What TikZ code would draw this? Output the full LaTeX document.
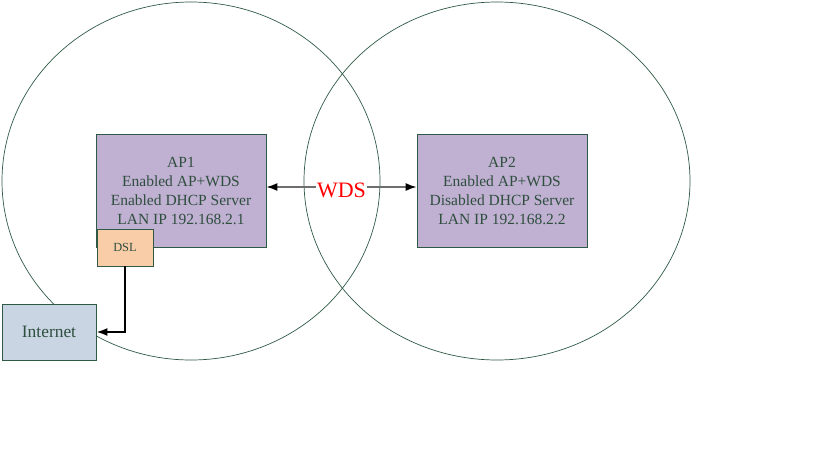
\documentclass[tikz,border=0pt]{standalone}
\usepackage{fontspec}
\setmainfont{Liberation Serif}
\usetikzlibrary{arrows.meta}
\definecolor{edge}{HTML}{2E5A45}
\definecolor{txt}{HTML}{2E4E3E}
\definecolor{apfill}{HTML}{C0B0D2}
\definecolor{dslfill}{HTML}{F9CDA8}
\definecolor{netfill}{HTML}{C9D5E3}
\definecolor{wdsline}{HTML}{6E6E6E}
\tikzset{
  box/.style={draw=edge, line width=0.8pt, text=txt, align=center, inner sep=0pt},
  zone/.style={draw=edge, line width=0.7pt},
  tip/.style={-{Latex[length=11pt,width=8pt,fill=black,color=black]}},
}
\begin{document}
\begin{tikzpicture}[x=1pt,y=-1pt]
\useasboundingbox (0,0) rectangle (819,460);
\draw[zone] (191,181) ellipse [x radius=189, y radius=179];
\draw[zone] (497,181) ellipse [x radius=193, y radius=179];
\node[box, fill=apfill, minimum width=170pt, minimum height=113pt, font=\fontsize{15.5}{19}\selectfont] (ap1) at (181,190.5) {AP1\\Enabled AP+WDS\\Enabled DHCP Server\\LAN IP 192.168.2.1};
\node[box, fill=apfill, minimum width=170pt, minimum height=113pt, font=\fontsize{15.5}{19}\selectfont] (ap2) at (502,190.5) {AP2\\Enabled AP+WDS\\Disabled DHCP Server\\LAN IP 192.168.2.2};
\node[box, fill=dslfill, minimum width=56pt, minimum height=37pt, font=\fontsize{12.4}{14}\selectfont] (dsl) at (125,247.5) {DSL};
\node[box, fill=netfill, minimum width=94pt, minimum height=56pt, font=\fontsize{17.4}{20}\selectfont] (net) at (49,332) {Internet};
\node[text=red, font=\fontsize{22}{24}\selectfont, inner sep=1pt] (wds) at (341.5,190) {WDS};
\coordinate (wl) at (wds.west |- 0,187);
\coordinate (wr) at (wds.east |- 0,187);
\draw[wdsline, line width=1.5pt, tip] (wl) -- (ap1.east |- wl);
\draw[wdsline, line width=1.5pt, tip] (wr) -- (ap2.west |- wr);
\draw[black, line width=1.8pt, tip] (dsl.south) |- (net.east |- 0,332);
\end{tikzpicture}
\end{document}
